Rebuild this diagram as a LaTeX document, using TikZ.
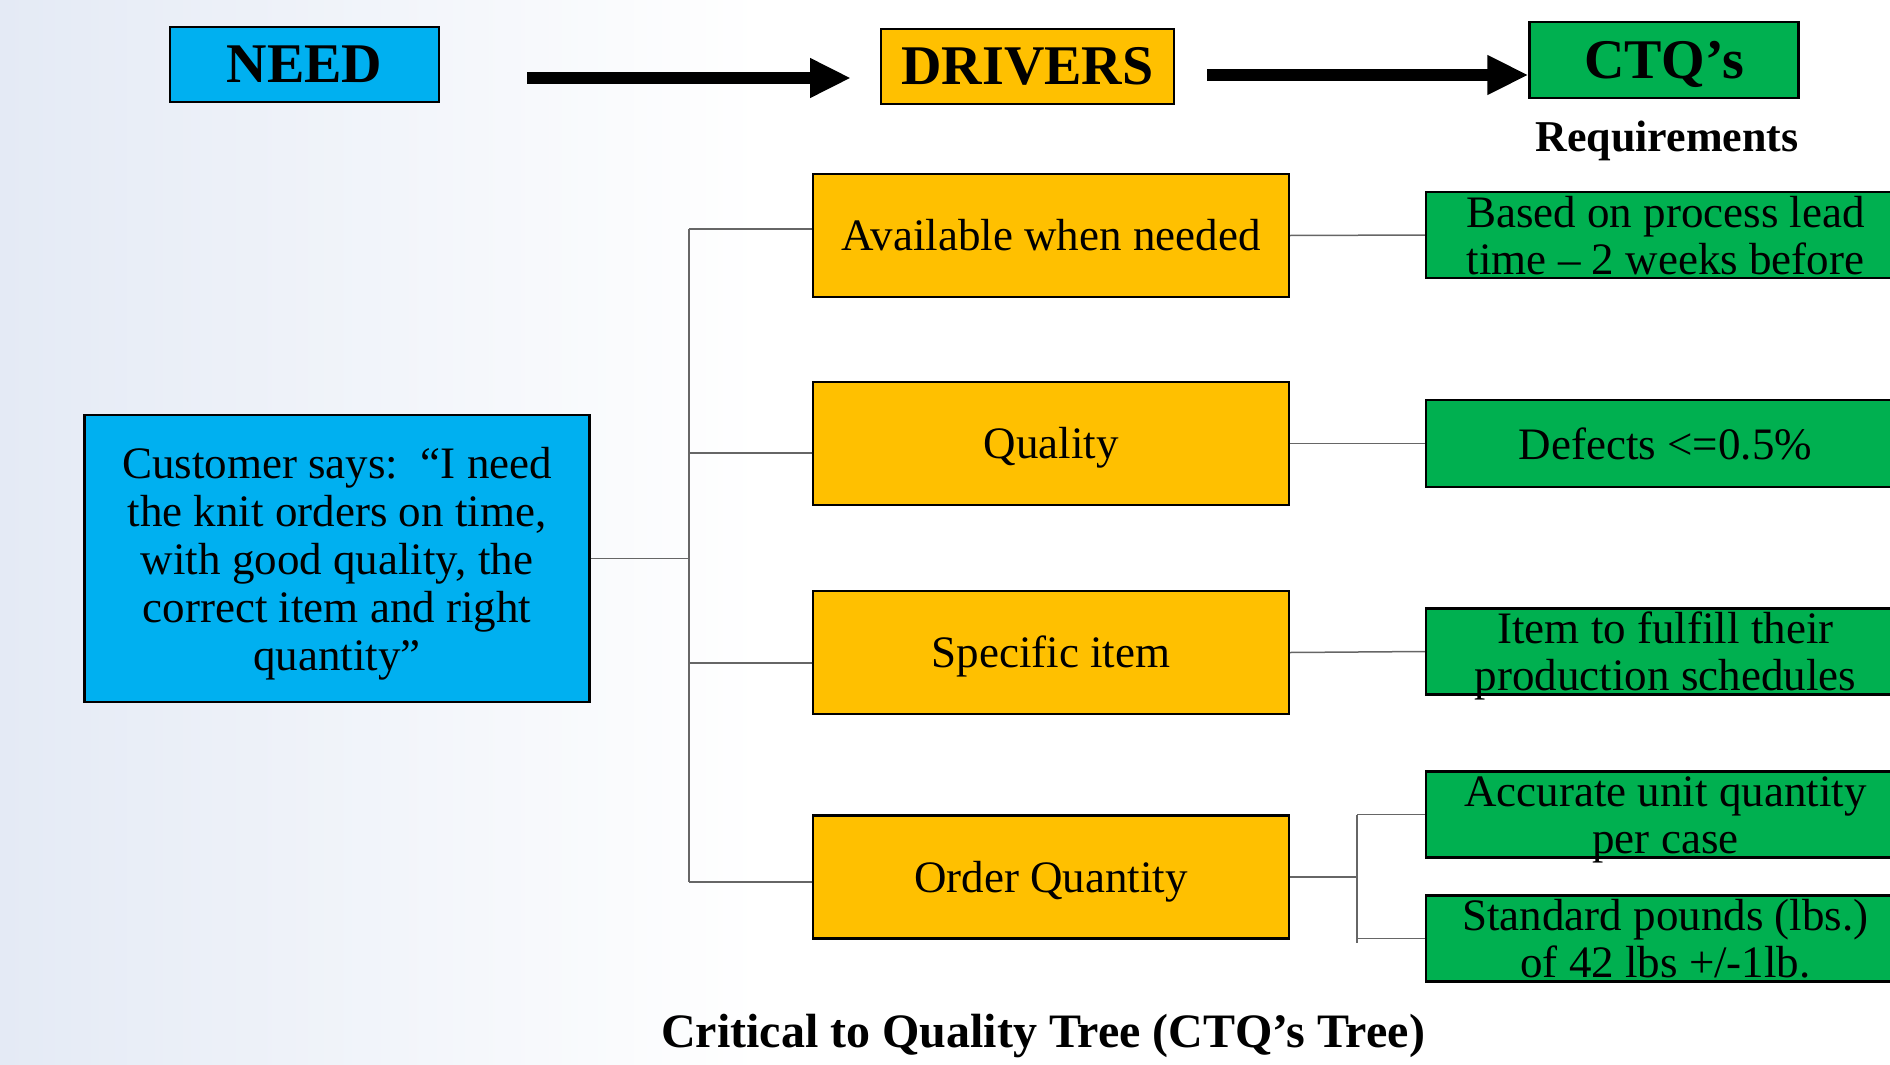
\documentclass[tikz,border=0pt]{standalone}
\usepackage{fontspec}
\setmainfont{Liberation Serif}
\usetikzlibrary{arrows.meta}
\definecolor{needblue}{HTML}{00B0F0}
\definecolor{drvorange}{HTML}{FFC000}
\definecolor{ctqgreen}{HTML}{00B050}
\definecolor{bgleft}{HTML}{E4EAF5}
\begin{document}
\begin{tikzpicture}[x=1pt,y=-1pt,
  box/.style={draw=black,line width=2.2pt,inner sep=0pt,align=center,text=black},
  hdr/.style={box,font=\fontsize{56}{60}\selectfont\bfseries,minimum height=75pt,text height=36pt,text depth=0pt},
  drv/.style={box,fill=drvorange,minimum width=476pt,minimum height=123pt,font=\fontsize{45}{48}\selectfont,text height=31pt,text depth=1pt},
  req/.style={box,fill=ctqgreen,minimum width=479pt,minimum height=86pt,font=\fontsize{45}{47}\selectfont,text height=81pt,text depth=3pt},
  link/.style={draw=black!60,line width=1.5pt},
  bigarrow/.style={draw=black,line width=12pt,-{Triangle[length=41pt,width=37pt]}}]

\clip (0,0) rectangle (1890,1065);
\shade[left color=bgleft,right color=white] (0,0) rectangle (760,1065);

% header row
\node[hdr,fill=needblue,minimum width=269pt] (need) at (304.5,64.5) {NEED};
\node[hdr,fill=drvorange,minimum width=293pt] (drivers) at (1027.5,66.5) {DRIVERS};
\node[hdr,fill=ctqgreen,minimum width=269pt,minimum height=76pt] (ctq) at (1664,60) {CTQ’s};
\node[anchor=base,font=\fontsize{44}{46}\selectfont\bfseries] (reqlabel) at (1667,151) {Requirements};

\coordinate (a1s) at (527,78);
\coordinate (a1e) at (851,78);
\draw[bigarrow] (a1s) -- (a1e);
\coordinate (a2s) at (1207,75);
\draw[bigarrow] (a2s) -- (ctq.west |- a2s);

% customer need
\node[box,fill=needblue,minimum width=505pt,minimum height=287pt,
      font=\fontsize{45}{48}\selectfont,text height=226pt,text depth=2pt] (cust) at (337,558.5)
  {Customer says:\ \ “I need\\the knit orders on time,\\with good quality, the\\correct item and right\\quantity”};

% drivers
\node[drv] (avail) at (1051,235.5) {Available when needed};
\node[drv] (qual)  at (1051,443.5) {Quality};
\node[drv] (spec)  at (1051,652.5) {Specific item};
\node[drv] (order) at (1051,877)   {Order Quantity};

% requirements
\node[req] (r1) at (1665.5,235)   {Based on process lead\\time – 2 weeks before};
\node[req,minimum height=87pt,text height=35pt] (r2) at (1665.5,443.5) {Defects <=0.5\%};
\node[req] (r3) at (1665.5,651.5) {Item to fulfill their\\production schedules};
\node[req] (r4) at (1665.5,814.5) {Accurate unit quantity\\per case};
\node[req] (r5) at (1665.5,938.5) {Standard pounds (lbs.)\\of 42 lbs +/-1lb.};

% tree from need to drivers
\coordinate (tj) at (689,558.5);
\coordinate (ttop) at (689,229);
\coordinate (tq) at (689,453);
\coordinate (ts) at (689,663);
\coordinate (tbot) at (689,882);
\draw[link] (cust.east) -- (tj);
\draw[link] (ttop) -- (tbot);
\draw[link] (ttop) -- (avail.west |- ttop);
\draw[link] (tq) -- (qual.west |- tq);
\draw[link] (ts) -- (spec.west |- ts);
\draw[link] (tbot) -- (order.west |- tbot);

% drivers to requirements
\draw[link] (avail.east) -- (r1.west);
\draw[link] (qual.east) -- (r2.west);
\draw[link] (spec.east) -- (r3.west);
\coordinate (oj) at (1357,877);
\coordinate (ojt) at (1357,814.5);
\coordinate (ojb) at (1357,943);
\coordinate (oj5) at (1357,938.5);
\draw[link] (order.east) -- (oj);
\draw[link] (ojt) -- (ojb);
\draw[link] (ojt) -- (r4.west);
\draw[link] (oj5) -- (r5.west);

% title
\node[anchor=base,font=\fontsize{48}{52}\selectfont\bfseries] (title) at (1043,1047)
  {Critical to Quality Tree (CTQ’s Tree)};
\end{tikzpicture}
\end{document}
